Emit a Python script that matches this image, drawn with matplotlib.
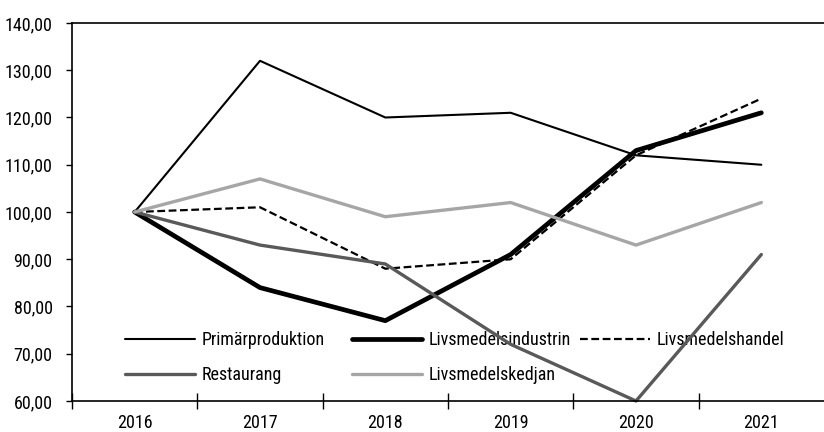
import matplotlib
matplotlib.use("Agg")
import matplotlib.pyplot as plt
from matplotlib import font_manager
from matplotlib.legend import Legend
from matplotlib.ticker import FuncFormatter

# data
years = ["2016", "2017", "2018", "2019", "2020", "2021"]
primar = [100, 132, 120, 121, 112, 110]
industrin = [100, 84, 77, 91, 113, 121]
handel = [100, 101, 88, 90, 112, 124]
restaurang = [100, 93, 89, 72, 60, 91]
kedjan = [100, 107, 99, 102, 93, 102]

y_ticks = list(range(60, 141, 10))

# pick a condensed font, the original uses a narrow gothic
names = {f.name for f in font_manager.fontManager.ttflist}
wanted = ["Roboto Condensed", "Archivo Narrow", "Fira Sans Condensed",
          "Sofia Sans Condensed", "PT Sans Narrow", "Liberation Sans Narrow",
          "Sofia Sans Semi Condensed", "DejaVu Sans"]
family = next(n for n in wanted if n in names or n == "DejaVu Sans")
plt.rcParams["font.family"] = [family, "DejaVu Sans"]
plt.rcParams["font.size"] = 13

fig = plt.figure(figsize=(8.24, 4.32), dpi=100)
ax = fig.add_axes([72 / 824, 1 - 401 / 432, 752 / 824, (401 - 23) / 432])

x = list(range(len(years)))
l1, = ax.plot(x, primar, color="black", lw=1.5, label="Primärproduktion")
l2, = ax.plot(x, industrin, color="black", lw=3.4, label="Livsmedelsindustrin")
l3, = ax.plot(x, handel, color="black", lw=1.6, dashes=(3.5, 1.6), label="Livsmedelshandel")
l4, = ax.plot(x, restaurang, color="#595959", lw=2.4, label="Restaurang")
l5, = ax.plot(x, kedjan, color="#a6a6a6", lw=2.4, label="Livsmedelskedjan")
for ln in (l1, l2, l3, l4, l5):
    ln.set_solid_capstyle("round")
    ln.set_solid_joinstyle("round")
    ln.set_clip_on(False)

ax.set_xlim(-0.5, 5.5)
ax.set_ylim(60, 140)
ax.set_yticks(y_ticks)
ax.yaxis.set_major_formatter(FuncFormatter(lambda v, p: f"{v:.2f}".replace(".", ",")))
ax.set_xticks(x)
ax.set_xticklabels(years)
ax.set_xticks([i - 0.5 for i in range(len(years))], minor=True)

ax.tick_params(axis="x", which="major", length=0, pad=9)
ax.tick_params(axis="x", which="minor", direction="inout", length=12, width=1)
ax.tick_params(axis="y", direction="out", length=4, width=1, pad=10)

ax.spines["right"].set_visible(False)
for s in ("left", "top", "bottom"):
    ax.spines[s].set_linewidth(1.2)

# legend: three fixed-width columns like the original, under the lines
cols = [[l1, l4], [l2, l5], [l3]]
starts = [125, 352, 580]
for lines, x0 in zip(cols, starts):
    leg = Legend(ax, lines, [l.get_label() for l in lines], loc="upper left",
                 bbox_to_anchor=(x0 / 824, 1 - 331 / 432),
                 bbox_transform=fig.transFigure,
                 frameon=False, handlelength=3.9, handletextpad=0.35,
                 labelspacing=0.95, borderpad=0, borderaxespad=0)
    leg.set_zorder(1)
    ax.add_artist(leg)

fig.savefig("out.png", dpi=100)
